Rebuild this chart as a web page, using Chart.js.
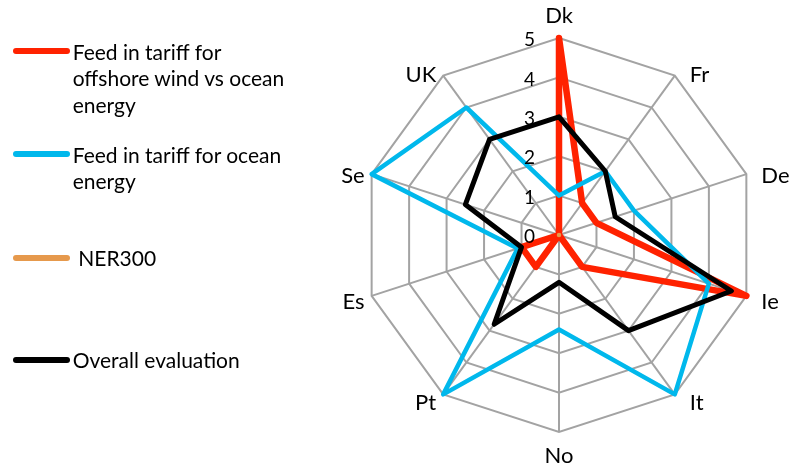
<!DOCTYPE html>
<html>
<head>
<meta charset="utf-8">
<script src="https://cdn.jsdelivr.net/npm/chart.js@4.4.1/dist/chart.umd.min.js"></script>
<style>
  html, body { margin: 0; padding: 0; background: #ffffff; }
  #wrap { position: relative; width: 798px; height: 471px; overflow: hidden; font-family: Lato, "Open Sans", sans-serif; }
  #chart { position: absolute; left: 0; top: 0; }
  .key-text { position: absolute; color: #000; font-size: 21px; line-height: 26.7px; white-space: nowrap; }
  .key-line { position: absolute; height: 6px; border-radius: 3px; }
</style>
</head>
<body>
<div id="wrap">
  <canvas id="chart" width="798" height="471"></canvas>
  <div id="legend"></div>
</div>
<script>
// Countries around the radar, clockwise from the top
const countries = ['Dk', 'Fr', 'De', 'Ie', 'It', 'No', 'Pt', 'Es', 'Se', 'UK'];

// Scores (0-5) per country
const offshoreVsOcean = [5, 1, 1, 5, 1, 0, 1, 1, 0, 0];
const oceanTariff     = [1, 2, 2, 4, 5, 2.4, 5, 1.1, 5, 4];
const ner300          = [0, 0, 0, 0, 0, 0, 0, 0, 0, 0];
const overall         = [3, 2, 1.5, 4.6, 3, 1.2, 2.8, 1, 2.5, 3];

// Score scale
const scoreTicks = [0, 1, 2, 3, 4, 5];

const seriesNames = [
  ['Feed in tariff for', 'offshore wind vs ocean', 'energy'],
  ['Feed in tariff for ocean', 'energy'],
  ['NER300'],
  ['Overall evaluation']
];

const colors = ['#ff2200', '#00b8ec', '#e6994c', '#000000'];
const widths = [6.5, 4.5, 4.5, 5];
const seriesData = [offshoreVsOcean, oceanTariff, ner300, overall];

// Legend on the left: line swatch + wrapped text
const legendLayout = [
  { lineY: 51,    textX: 72.7, textTop: 38.5 },
  { lineY: 154.3, textX: 72.7, textTop: 141.5 },
  { lineY: 257.7, textX: 78.3, textTop: 244.5 },
  { lineY: 360,   textX: 72.7, textTop: 346.5 }
];
const legend = document.getElementById('legend');
seriesNames.forEach((lines, i) => {
  const L = legendLayout[i];
  const sw = document.createElement('div');
  sw.className = 'key-line';
  sw.style.left = '13px';
  sw.style.width = '57px';
  sw.style.top = (L.lineY - 3) + 'px';
  sw.style.background = colors[i];
  legend.appendChild(sw);
  const tx = document.createElement('div');
  tx.className = 'key-text';
  tx.style.left = L.textX + 'px';
  tx.style.top = L.textTop + 'px';
  tx.innerHTML = lines.join('<br>');
  legend.appendChild(tx);
});

// Axis names and score numbers, placed from the radial scale geometry
const radarText = {
  id: 'radarText',
  afterDraw(chart) {
    const scale = chart.scales.r;
    const ctx = chart.ctx;
    ctx.save();
    ctx.fillStyle = '#000';
    ctx.textBaseline = 'middle';

    // score numbers, left of the top axis
    ctx.font = '19px Lato, sans-serif';
    ctx.textAlign = 'right';
    scale.ticks.forEach(t => {
      const d = scale.getDistanceFromCenterForValue(t.value);
      ctx.fillText(String(t.value), scale.xCenter - 24, scale.yCenter - d + 2);
    });

    // country names
    ctx.font = '22px Lato, sans-serif';
    chart.data.labels.forEach((label, i) => {
      const p = scale.getPointPosition(i, scale.drawingArea);
      const a = scale.getIndexAngle(i);
      const s = Math.sin(a), c = Math.cos(a);
      let x = p.x, y = p.y;
      if (Math.abs(s) < 1e-6) {
        ctx.textAlign = 'center';
        y += c > 0 ? -22 : 24;
      } else if (s > 0) {
        ctx.textAlign = 'left';
        x += 15;
        y += 4 - 6 * c;
      } else {
        ctx.textAlign = 'right';
        x -= 7;
        y += 4 - 6 * c;
      }
      ctx.fillText(label, x, y);
    });
    ctx.restore();
  }
};

new Chart(document.getElementById('chart'), {
  type: 'radar',
  data: {
    labels: countries,
    datasets: seriesData.map((d, i) => ({
      label: seriesNames[i].join(' '),
      data: d,
      borderColor: colors[i],
      backgroundColor: 'transparent',
      borderWidth: widths[i],
      borderJoinStyle: 'round',
      borderCapStyle: 'round',
      pointRadius: 0,
      pointHoverRadius: 0,
      fill: false,
      tension: 0,
      clip: false,
      order: 4 - i
    }))
  },
  options: {
    responsive: false,
    animation: false,
    events: [],
    layout: { padding: { left: 362, top: 38, right: 42, bottom: 39 } },
    plugins: { legend: { display: false }, tooltip: { enabled: false } },
    scales: {
      r: {
        min: scoreTicks[0],
        max: scoreTicks[scoreTicks.length - 1],
        ticks: { stepSize: 1, display: false },
        pointLabels: { display: false },
        grid: { color: '#a3a3a3', lineWidth: 2 },
        angleLines: { color: '#a3a3a3', lineWidth: 2 }
      }
    }
  },
  plugins: [radarText]
});
</script>
</body>
</html>
